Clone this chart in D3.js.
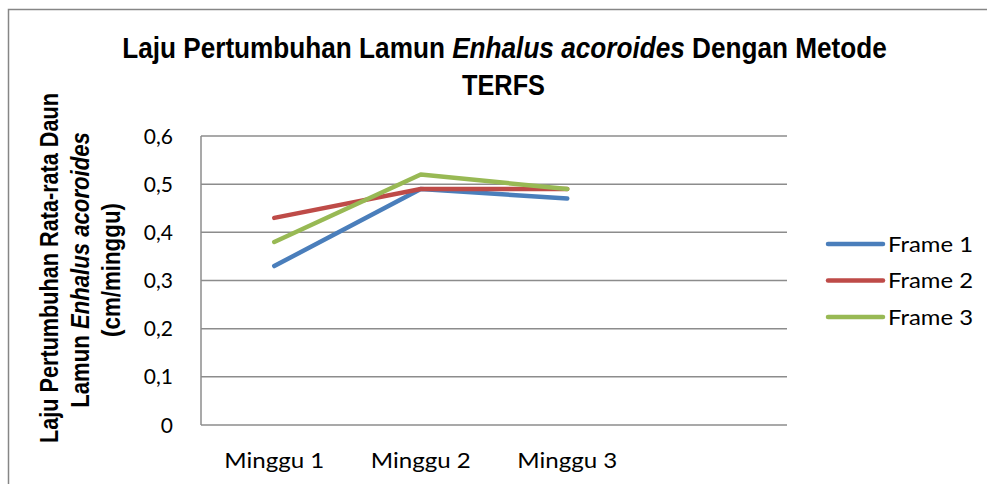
<!DOCTYPE html>
<html>
<head>
<meta charset="utf-8">
<script src="https://cdn.jsdelivr.net/npm/d3@7.9.0/dist/d3.min.js"></script>
<style>
  body { margin: 0; background: #fff; }
  svg { display: block; }
</style>
</head>
<body>
<svg id="chart" width="987" height="484"></svg>
<script>
// data
const categories = ['Minggu 1', 'Minggu 2', 'Minggu 3', ''];
const seriesNames = ['Frame 1', 'Frame 2', 'Frame 3'];
const frame1 = [0.33, 0.49, 0.47];
const frame2 = [0.43, 0.49, 0.49];
const frame3 = [0.38, 0.52, 0.49];
const yTicks = [0, 0.1, 0.2, 0.3, 0.4, 0.5, 0.6];
const colors = ['#4a7ebb', '#be4b48', '#98b954'];

const series = [frame1, frame2, frame3];

const svg = d3.select('#chart');
const plot = { left: 201, right: 787, top: 136, bottom: 425 };

// squeeze a centred text (x = 0 in its group) to a given width
function fitWidth(g, target) {
  let w = g.node().getBBox().width;
  let k = target / w;
  g.attr('transform', (g.attr('transform') || '') + ` scale(${k},1)`);
}

// chart border
svg.append('rect')
  .attr('x', 8.5).attr('y', 9.5)
  .attr('width', 1000).attr('height', 500)
  .attr('fill', 'none')
  .attr('stroke', '#868686')
  .attr('stroke-width', 1.5);

let x = d3.scaleBand()
  .domain(categories.map((c, i) => i))
  .range([plot.left, plot.right]);

let y = d3.scaleLinear()
  .domain([0, 0.6])
  .range([plot.bottom, plot.top]);

// gridlines
svg.append('g')
  .selectAll('line')
  .data(yTicks)
  .join('line')
  .attr('x1', plot.left).attr('x2', plot.right)
  .attr('y1', (d) => y(d)).attr('y2', (d) => y(d))
  .attr('stroke', '#8c8c8c')
  .attr('stroke-width', 1.5);

// y axis line
svg.append('line')
  .attr('x1', plot.left).attr('x2', plot.left)
  .attr('y1', plot.top).attr('y2', plot.bottom)
  .attr('stroke', '#8c8c8c')
  .attr('stroke-width', 1.5);

// y tick labels
svg.append('g')
  .selectAll('text')
  .data(yTicks)
  .join('text')
  .attr('x', 173)
  .attr('y', (d) => y(d))
  .attr('dy', '0.36em')
  .attr('text-anchor', 'end')
  .attr('font-family', 'Lato, "Open Sans", sans-serif')
  .attr('font-size', 21)
  .attr('fill', '#000')
  .text((d) => d === 0 ? '0' : d3.format('.1f')(d).replace('.', ','));

// x labels
svg.append('g')
  .selectAll('text')
  .data(categories.filter((c) => c !== ''))
  .join('text')
  .attr('x', (d, i) => x(i) + x.bandwidth() / 2)
  .attr('y', 468)
  .attr('text-anchor', 'middle')
  .attr('font-family', 'Lato, "Open Sans", sans-serif')
  .attr('font-size', 21)
  .attr('textLength', 100)
  .attr('lengthAdjust', 'spacingAndGlyphs')
  .attr('fill', '#000')
  .text((d) => d);

// lines
let line = d3.line()
  .x((d, i) => x(i) + x.bandwidth() / 2)
  .y((d) => y(d));

series.forEach((s, i) => {
  svg.append('path')
    .datum(s)
    .attr('d', line)
    .attr('fill', 'none')
    .attr('stroke', colors[i])
    .attr('stroke-width', 4.5)
    .attr('stroke-linecap', 'round')
    .attr('stroke-linejoin', 'round');
});

// legend
let legend = svg.append('g');
seriesNames.forEach((name, i) => {
  let ly = 244 + i * 36.5;
  legend.append('line')
    .attr('x1', 828).attr('x2', 883)
    .attr('y1', ly).attr('y2', ly)
    .attr('stroke', colors[i])
    .attr('stroke-width', 4.5)
    .attr('stroke-linecap', 'round');
  legend.append('text')
    .attr('x', 888)
    .attr('y', ly)
    .attr('dy', '0.36em')
    .attr('font-family', 'Lato, "Open Sans", sans-serif')
    .attr('font-size', 21)
    .attr('textLength', 85)
    .attr('lengthAdjust', 'spacingAndGlyphs')
    .attr('fill', '#000')
    .text(name);
});

// title, two lines, squeezed like the original
function boldText(g, yPos, html) {
  let inner = g.append('g').attr('transform', `translate(0,${yPos})`);
  inner.append('text')
    .attr('x', 0).attr('y', 0)
    .attr('text-anchor', 'middle')
    .attr('font-family', '"Liberation Sans", Arial, sans-serif')
    .attr('font-weight', 'bold')
    .attr('fill', '#000')
    .html(html);
  return inner;
}

let title = svg.append('g').attr('font-size', 30);
fitWidth(boldText(title, 0, 'Laju Pertumbuhan Lamun <tspan font-style="italic">Enhalus acoroides</tspan> Dengan Metode')
  .attr('transform', 'translate(504.5,58)'), 765);
fitWidth(boldText(title, 0, 'TERFS')
  .attr('transform', 'translate(503.5,95)'), 83);

// y axis title
let yTitle = svg.append('g')
  .attr('transform', 'translate(0,268) rotate(-90)')
  .attr('font-size', 25);
fitWidth(boldText(yTitle, 0, 'Laju Pertumbuhan Rata-rata Daun')
  .attr('transform', 'translate(0,58)'), 350);
fitWidth(boldText(yTitle, 0, 'Lamun <tspan font-style="italic">Enhalus acoroides</tspan>')
  .attr('transform', 'translate(-2,89)'), 276);
fitWidth(boldText(yTitle, 0, '(cm/minggu)')
  .attr('transform', 'translate(-2,120)'), 134);
</script>
</body>
</html>
